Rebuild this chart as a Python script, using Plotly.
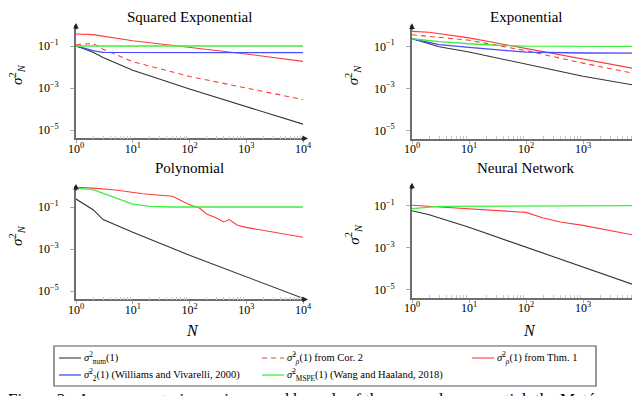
"""
Average posterior variance and bounds for four kernels (log-log panels)
"""
import plotly.graph_objects as go

# ---- data (N, sigma^2) ----
# Squared Exponential
se_num_n = [1, 2, 3, 10, 100, 1000, 10000]
se_num = [0.1, 0.0501, 0.0282, 0.00708, 0.000891, 0.000126, 1.9e-5]
se_cor_n = [1, 2, 3, 10, 100, 1000, 10000]
se_cor = [0.115, 0.132, 0.0708, 0.0178, 0.00355, 0.001, 0.000282]
se_thm_n = [1, 2, 10, 100, 1000, 10000]
se_thm = [0.372, 0.347, 0.178, 0.0891, 0.0417, 0.0186]
se_wv_n = [1, 2, 3, 10000]
se_wv = [0.1, 0.0603, 0.0501, 0.0479]
se_mspe_n = [1, 10000]
se_mspe = [0.1, 0.1]

# Exponential
ex_num_n = [1, 3, 10, 100, 1000, 10000]
ex_num = [0.229, 0.0955, 0.0537, 0.0145, 0.00372, 0.00126]
ex_cor_n = [1, 10, 100, 1000, 10000]
ex_cor = [0.355, 0.195, 0.0617, 0.0158, 0.00447]
ex_thm_n = [1, 2, 10, 100, 1000, 10000]
ex_thm = [0.513, 0.468, 0.251, 0.0776, 0.0257, 0.00776]
ex_wv_n = [1, 3, 10, 30, 100, 1000, 10000]
ex_wv = [0.229, 0.12, 0.0891, 0.0708, 0.0525, 0.0479, 0.0468]
ex_mspe_n = [1, 3, 10, 30, 100, 10000]
ex_mspe = [0.229, 0.166, 0.132, 0.112, 0.102, 0.1]

# Polynomial
po_num_n = [1, 2, 3, 5, 10, 100, 1000, 10000]
po_num = [0.24, 0.0741, 0.0251, 0.0135, 0.00631, 0.000501, 4.68e-5, 4.47e-6]
po_thm_n = [1, 2, 5, 10, 15, 50, 100, 150, 200, 300, 400, 500, 700, 1000, 10000]
po_thm = [0.871, 0.794, 0.646, 0.513, 0.427, 0.324, 0.129, 0.0891, 0.0468,
          0.0302, 0.0195, 0.0251, 0.0135, 0.0107, 0.00363]
po_mspe_n = [1, 2, 5, 10, 20, 50, 10000]
po_mspe = [0.794, 0.676, 0.269, 0.138, 0.107, 0.1, 0.1]

# Neural Network
nn_num_n = [1, 2, 10, 100, 1000, 10000]
nn_num = [0.0575, 0.0372, 0.00933, 0.00107, 0.00012, 1.35e-5]
nn_thm_n = [1, 3, 10, 30, 100, 200, 400, 1000, 10000]
nn_thm = [0.105, 0.0871, 0.0724, 0.0575, 0.0479, 0.0257, 0.0166, 0.0115, 0.00347]
nn_mspe_n = [1, 3, 10000]
nn_mspe = [0.0724, 0.0933, 0.1]

titles = ['Squared Exponential', 'Exponential', 'Polynomial', 'Neural Network']
x_ticks = [1, 10, 100, 1000, 10000]
x_labels = ['10<sup>0</sup>', '10<sup>1</sup>', '10<sup>2</sup>', '10<sup>3</sup>', '10<sup>4</sup>']
y_ticks = [1e-1, 1e-3, 1e-5]
y_labels = ['10<sup>\u22121</sup>', '10<sup>\u22123</sup>', '10<sup>\u22125</sup>']

names = {
    'num': '<i>\u03c3</i><sup>2</sup><sub>num</sub>(1)',
    'cor': '<i>\u03c3\u0302</i><sup>2</sup><sub><i>\u03c1</i></sub>(1) from Cor. 2',
    'thm': '<i>\u03c3\u0304</i><sup>2</sup><sub><i>\u03c1</i></sub>(1) from Thm. 1',
    'wv': '<i>\u03c3\u0304</i><sup>2</sup><sub>2</sub>(1) (Williams and Vivarelli, 2000)',
    'mspe': '<i>\u03c3\u0304</i><sup>2</sup><sub>MSPE</sub>(1) (Wang and Haaland, 2018)',
}
styles = {
    'num': dict(color='#333333', width=1.1),
    'cor': dict(color='#ff3b3b', width=1.1, dash='5px,4px'),
    'thm': dict(color='#ff3b3b', width=1.1),
    'wv': dict(color='#4a4aff', width=1.3),
    'mspe': dict(color='#3cf03c', width=1.3),
}

panels = [
    {'num': (se_num_n, se_num), 'cor': (se_cor_n, se_cor), 'thm': (se_thm_n, se_thm),
     'wv': (se_wv_n, se_wv), 'mspe': (se_mspe_n, se_mspe)},
    {'num': (ex_num_n, ex_num), 'cor': (ex_cor_n, ex_cor), 'thm': (ex_thm_n, ex_thm),
     'wv': (ex_wv_n, ex_wv), 'mspe': (ex_mspe_n, ex_mspe)},
    {'num': (po_num_n, po_num), 'thm': (po_thm_n, po_thm), 'mspe': (po_mspe_n, po_mspe)},
    {'num': (nn_num_n, nn_num), 'thm': (nn_thm_n, nn_thm), 'mspe': (nn_mspe_n, nn_mspe)},
]
draw_order = ['num', 'cor', 'thm', 'wv', 'mspe']

W, H = 640, 396
FONT = 'Liberation Serif'
# pixel boxes of each panel: (left, right, top, bottom)
boxes = [(68, 295, 17, 130.4), (404, 632, 17.3, 130.7),
         (68, 295, 178, 291.4), (404, 632, 176.7, 290)]
# vertical centre of each panel title, pixels
title_y = [9, 9, 160, 160]
AX = '#6e6e6e'

fig = go.Figure()
layout = dict(template='none', width=W, height=H, autosize=False,
              plot_bgcolor='white', paper_bgcolor='white', showlegend=False,
              margin=dict(l=0, r=0, t=0, b=0, pad=0),
              font=dict(family=FONT, size=12, color='black'))
annotations = []
shapes = []

for i, panel in enumerate(panels):
    k = '' if i == 0 else str(i + 1)
    left, right, top, bottom = boxes[i]
    for key in draw_order:
        if key not in panel:
            continue
        xs, ys = panel[key]
        fig.add_trace(go.Scatter(x=xs, y=ys, mode='lines', name=names[key],
                                 line=styles[key], xaxis='x' + k, yaxis='y' + k,
                                 hoverinfo='skip'))
    layout['xaxis' + k] = dict(
        type='log', range=[0, 4], domain=[left / W, right / W], anchor='y' + k,
        automargin=False, showgrid=False, zeroline=False, showline=True,
        linecolor=AX, linewidth=1.6, ticklabeloverflow='allow',
        tickmode='array', tickvals=x_ticks, ticktext=x_labels,
        ticks='outside', ticklen=3, tickcolor='#aaaaaa', ticklabelstandoff=-5,
        tickfont=dict(family=FONT, size=12),
        minor=dict(tickmode='array',
                   tickvals=[m * 10 ** e for e in range(4) for m in range(2, 10)],
                   ticks='inside', ticklen=3, tickcolor='#c8c8c8', showgrid=False))
    layout['yaxis' + k] = dict(
        type='log', range=[-5.4, 0], domain=[1 - bottom / H, 1 - top / H],
        anchor='x' + k, automargin=False, showgrid=False, zeroline=False,
        showline=True, linecolor=AX, linewidth=1.6, tickmode='array',
        tickvals=y_ticks, ticktext=y_labels, ticks='outside', ticklen=4,
        tickcolor='#aaaaaa', ticklabelstandoff=9,
        tickfont=dict(family=FONT, size=12))
    # panel title
    annotations.append(dict(text=titles[i], xref='paper', yref='paper',
                            x=(left + right) / 2 / W, y=1 - title_y[i] / H,
                            showarrow=False, font=dict(family=FONT, size=15),
                            xanchor='center', yanchor='middle'))
    # y axis title
    ylab_x = 9 if i % 2 == 0 else 345
    annotations.append(dict(text='<i>\u03c3</i><sup>2</sup><sub><i>N</i></sub>',
                            xref='paper', yref='paper', x=ylab_x / W,
                            y=1 - (top + 50) / H, textangle=-90, showarrow=False,
                            font=dict(family=FONT, size=15),
                            xanchor='center', yanchor='middle'))
    # axis arrow heads
    annotations.append(dict(text='', xref='paper', yref='paper', x=(right + 5) / W,
                            y=1 - bottom / H, ax=-8, ay=0, showarrow=True,
                            arrowhead=2, arrowsize=0.8, arrowwidth=1.4, arrowcolor='#222'))
    annotations.append(dict(text='', xref='paper', yref='paper', x=left / W,
                            y=1 - (top - 2) / H, ax=0, ay=8, showarrow=True,
                            arrowhead=2, arrowsize=0.8, arrowwidth=1.4, arrowcolor='#222'))

# N labels under the bottom panels
for cx in (184, 521):
    annotations.append(dict(text='<i>N</i>', xref='paper', yref='paper', x=cx / W,
                            y=1 - 322 / H, showarrow=False,
                            font=dict(family=FONT, size=16), xanchor='center',
                            yanchor='middle'))

# legend box: (key, sample start x, row y) in pixels
legend_slots = [('num', 51, 350), ('cor', 254, 350), ('thm', 464, 350),
                ('wv', 51, 367), ('mspe', 254, 367)]
shapes.append(dict(type='rect', xref='paper', yref='paper', x0=46 / W,
                   x1=588 / W, y0=1 - 378 / H, y1=1 - 338 / H,
                   line=dict(color='#555555', width=1.2)))
for key, lx, ly in legend_slots:
    shapes.append(dict(type='line', xref='paper', yref='paper', x0=lx / W,
                       x1=(lx + 22) / W, y0=1 - ly / H, y1=1 - ly / H,
                       line=styles[key]))
    annotations.append(dict(text=names[key], xref='paper', yref='paper',
                            x=(lx + 23) / W, y=1 - ly / H, showarrow=False,
                            font=dict(family=FONT, size=10.5), xanchor='left',
                            yanchor='middle'))

# caption (cut off at the bottom, as in the page)
annotations.append(dict(
    text='Figure 2:  Average posterior variance and bounds of the squared exponential, the Mat\u00e9rn',
    xref='paper', yref='paper', x=-2 / W, y=1 - 391 / H, showarrow=False,
    font=dict(family=FONT, size=17), xanchor='left', yanchor='middle'))

layout['shapes'] = shapes
layout['annotations'] = annotations

fig.update_layout(**layout)
fig.write_html('out.html')
